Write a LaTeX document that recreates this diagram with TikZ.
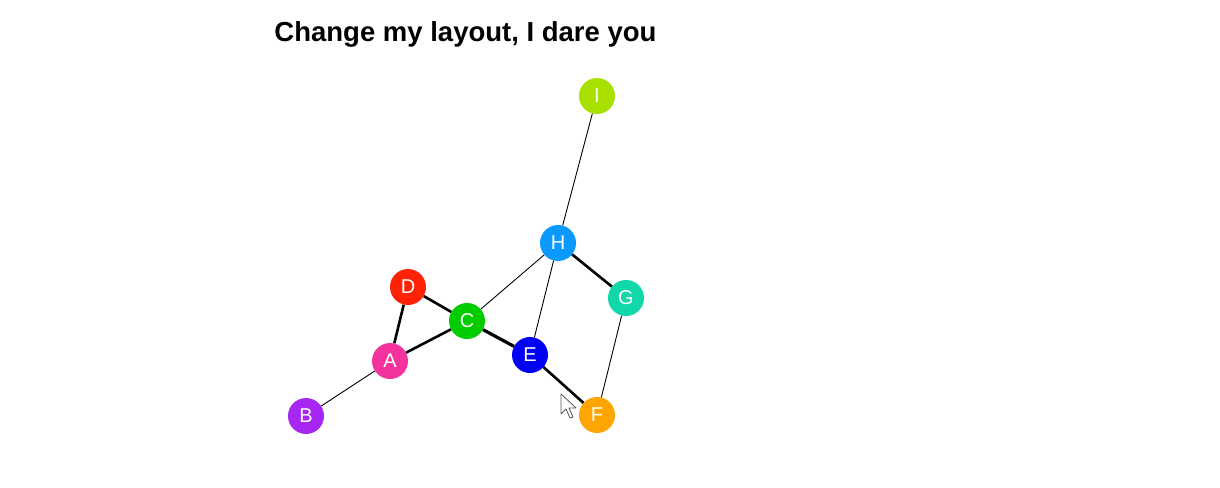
\documentclass[tikz,border=0pt]{standalone}
\usepackage{fontspec}
\setmainfont{Liberation Sans}
\begin{document}
\begin{tikzpicture}[x=1pt,y=-1pt,
  vert/.style={circle,minimum size=36pt,inner sep=0pt,text=white,font=\fontsize{20}{20}\selectfont},
  thin edge/.style={line width=0.9pt,black},
  thick edge/.style={line width=2.6pt,black}]
\useasboundingbox[fill=white] (0,0) rectangle (1220,487);
\definecolor{cI}{HTML}{A8E000}
\definecolor{cH}{HTML}{0A99FF}
\definecolor{cG}{HTML}{10D8A8}
\definecolor{cD}{HTML}{FF2205}
\definecolor{cC}{HTML}{00CC00}
\definecolor{cE}{HTML}{0000F5}
\definecolor{cA}{HTML}{F5339E}
\definecolor{cB}{HTML}{A626F2}
\definecolor{cF}{HTML}{FFA500}
\node[font=\bfseries\fontsize{27.5}{27.5}\selectfont] (title) at (465.5,34) {Change my layout, I dare you};
\node[vert,fill=cI] (I) at (597,96) {I};
\node[vert,fill=cH] (H) at (558,243) {H};
\node[vert,fill=cG] (G) at (626,298) {G};
\node[vert,fill=cD] (D) at (408,287) {D};
\node[vert,fill=cC] (C) at (467,321) {C};
\node[vert,fill=cE] (E) at (530,355) {E};
\node[vert,fill=cA] (A) at (390,361) {A};
\node[vert,fill=cB] (B) at (306,416) {B};
\node[vert,fill=cF] (F) at (597,415) {F};
\draw[thin edge] (I) -- (H);
\draw[thin edge] (H) -- (C);
\draw[thin edge] (H) -- (E);
\draw[thick edge] (H) -- (G);
\draw[thin edge] (G) -- (F);
\draw[thick edge] (D) -- (C);
\draw[thick edge] (D) -- (A);
\draw[thick edge] (C) -- (A);
\draw[thick edge,line width=3.2pt] (C) -- (E);
\draw[thick edge] (E) -- (F);
\draw[thin edge] (A) -- (B);
% mouse cursor
\draw[fill=white,draw=gray!70!black,line width=0.8pt,line join=round]
  (561,394) -- (561,414) -- (566,409) -- (570,418) -- (573,417) -- (569,408) -- (576,408) -- cycle;
\end{tikzpicture}
\end{document}
